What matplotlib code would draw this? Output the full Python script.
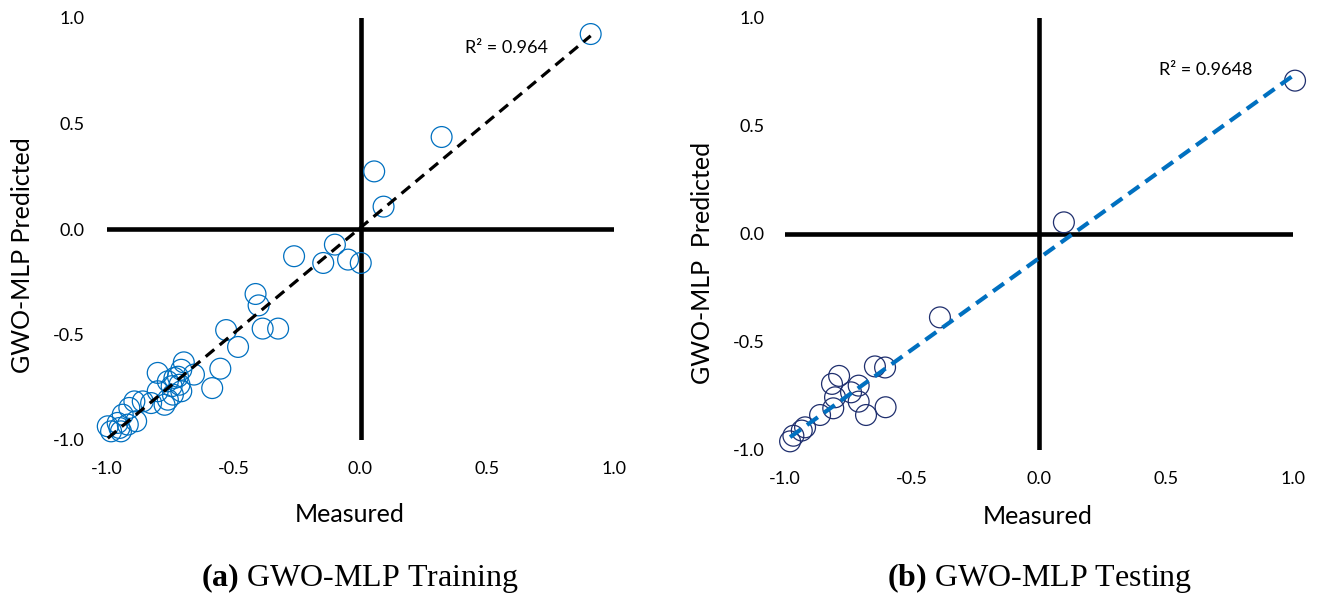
import numpy as np
import matplotlib
matplotlib.use('Agg')
from matplotlib import pyplot as plt

plt.rcParams['font.family'] = ['Lato', 'DejaVu Sans']
plt.rcParams['mathtext.fontset'] = 'custom'
plt.rcParams['mathtext.rm'] = 'Liberation Serif'
plt.rcParams['mathtext.bf'] = 'Liberation Serif:bold'

# (a) training: measured vs predicted
train_measured = [0.908, 0.320, 0.054, 0.091, -0.101, -0.262, -0.147, -0.049, 0.001,
                  -0.414, -0.402, -0.386, -0.325, -0.530, -0.483, -0.553, -0.585,
                  -0.697, -0.800, -0.657, -0.707, -0.734, -0.760, -0.714, -0.707,
                  -0.760, -0.773, -0.740, -0.859, -0.826, -0.892, -0.912, -0.885,
                  -0.938, -0.997, -0.958, -0.984, -0.945, -0.951, -0.918, -0.800,
                  -0.720, -0.745]
train_predicted = [0.924, 0.436, 0.273, 0.106, -0.074, -0.129, -0.161, -0.145, -0.161,
                   -0.308, -0.362, -0.472, -0.472, -0.479, -0.559, -0.662, -0.754,
                   -0.632, -0.682, -0.690, -0.667, -0.706, -0.722, -0.738, -0.769,
                   -0.809, -0.833, -0.785, -0.817, -0.825, -0.817, -0.848, -0.911,
                   -0.880, -0.935, -0.919, -0.959, -0.959, -0.943, -0.927, -0.769,
                   -0.700, -0.745]

# (b) testing
test_measured = [1.008, 0.098, -0.390, -0.646, -0.606, -0.787, -0.815, -0.710, -0.740,
                 -0.710, -0.803, -0.810, -0.681, -0.604, -0.862, -0.921, -0.934,
                 -0.967, -0.980]
test_predicted = [0.710, 0.054, -0.386, -0.613, -0.618, -0.657, -0.694, -0.702, -0.733,
                  -0.776, -0.756, -0.807, -0.838, -0.802, -0.838, -0.895, -0.910,
                  -0.934, -0.960]

ticks = [-1.0, -0.5, 0.0, 0.5, 1.0]
tick_labels = ['-1.0', '-0.5', '0.0', '0.5', '1.0']
r2_train = 'R² = 0.964'
r2_test = 'R² = 0.9648'

fig = plt.figure(figsize=(13.2, 6), dpi=100)
ax1 = fig.add_axes([107/1320, 160/600, 507/1320, 422/600])
ax2 = fig.add_axes([785/1320, 150/600, 508/1320, 432/600])


def panel(ax, xs, ys, mcolor, lcolor, lw, dashes, ypad):
    xs = np.array(xs)
    ys = np.array(ys)
    ax.set_xlim(-1, 1)
    ax.set_ylim(-1, 1)
    for s in ax.spines.values():
        s.set_visible(False)
    ax.axhline(0, color='black', lw=3.3, zorder=1)
    ax.axvline(0, color='black', lw=3.3, zorder=1)
    ax.scatter(xs, ys, s=15**2, facecolors='none', edgecolors=mcolor,
               linewidths=0.9, zorder=3, clip_on=False)
    k, b = np.polyfit(xs, ys, 1)
    xx = np.array([xs.min(), xs.max()])
    ax.plot(xx, k*xx + b, color=lcolor, lw=lw, dashes=dashes,
            dash_capstyle='butt', zorder=4, clip_on=False)
    ax.set_xticks(ticks)
    ax.set_xticklabels(tick_labels)
    ax.set_yticks(ticks)
    ax.set_yticklabels(tick_labels)
    ax.tick_params(axis='x', length=0, pad=15, labelsize=13)
    ax.tick_params(axis='y', length=0, pad=ypad, labelsize=13)


panel(ax1, train_measured, train_predicted, '#0070C0', 'black', 2.3, (3.5, 2.2), 16)
panel(ax2, test_measured, test_predicted, '#1F2F6E', '#0070C0', 3.0, (3.2, 1.8), 14.5)

fig.text(506/1320, 1-48/600, r2_train, fontsize=13, ha='center', va='center')
fig.text(1206/1320, 1-70/600, r2_test, fontsize=13, ha='center', va='center')

fig.text(23/1320, 1-255/600, 'GWO-MLP Predicted', fontsize=18, rotation=90,
         ha='center', va='center')
fig.text(702/1320, 1-263/600, 'GWO-MLP  Predicted', fontsize=18, rotation=90,
         ha='center', va='center')
fig.text(350/1320, 1-514/600, 'Measured', fontsize=18, ha='center', va='center')
fig.text(1038/1320, 1-516/600, 'Measured', fontsize=18, ha='center', va='center')

fig.text(360/1320, 1-578/600, r'$\mathbf{(a)}$ GWO-MLP Training', fontsize=23,
         family='Liberation Serif', ha='center', va='center')
fig.text(1040/1320, 1-578/600, r'$\mathbf{(b)}$ GWO-MLP Testing', fontsize=23,
         family='Liberation Serif', ha='center', va='center')

fig.savefig('out.png', dpi=100)
